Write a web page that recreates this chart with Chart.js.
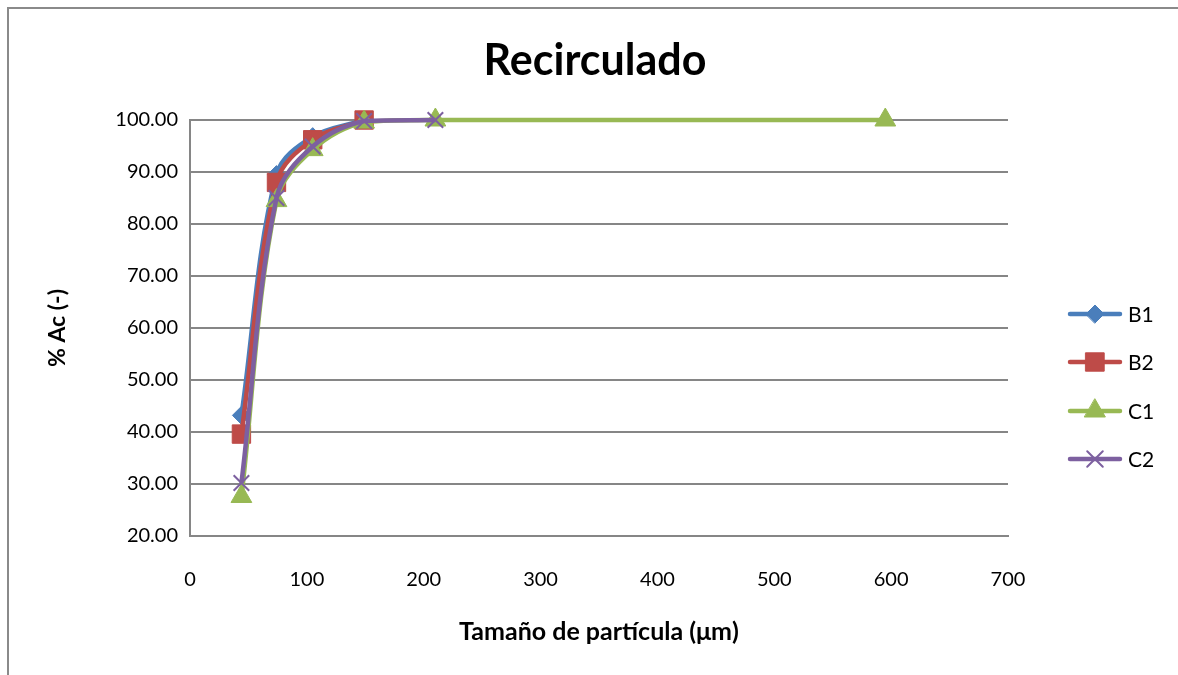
<!DOCTYPE html>
<html>
<head>
<meta charset="utf-8">
<script src="https://cdn.jsdelivr.net/npm/chart.js@4"></script>
<style>
  body { margin: 0; overflow: hidden; background: #fff; }
  #frame { position: absolute; left: 7px; top: 7px; width: 1300px; height: 800px; border: 2px solid #8a8a8a; }
  canvas { position: absolute; left: 0; top: 0; }
</style>
</head>
<body>
<div id="frame"></div>
<canvas id="graph" width="1178" height="675"></canvas>
<script>
var sizesB = [44, 74, 105, 149];
var sizesC1 = [44, 74, 105, 149, 210, 595];
var sizesC2 = [44, 74, 105, 149, 210];
var valuesB1 = [43.2, 89.5, 96.8, 100.0];
var valuesB2 = [39.6, 88.0, 96.2, 100.0];
var valuesC1 = [27.6, 84.5, 94.3, 99.6, 100.0, 100.0];
var valuesC2 = [30.2, 85.0, 94.9, 99.8, 100.0];
var seriesNames = ['B1', 'B2', 'C1', 'C2'];
var chartTitle = 'Recirculado';

var font = 'Lato, "Open Sans", sans-serif';

function points(xs, ys) {
    return xs.map(function (x, i) { return { x: x, y: ys[i] }; });
}

function dataset(name, xs, ys, color, style, radius, order) {
    return {
        label: name,
        data: points(xs, ys),
        borderColor: color,
        backgroundColor: color,
        borderWidth: 4.5,
        tension: 0.35,
        pointStyle: style,
        pointRadius: radius,
        pointHoverRadius: radius,
        pointBorderWidth: style === 'crossRot' ? 2 : 1,
        pointBorderColor: color,
        pointBackgroundColor: color,
        clip: false,
        order: order
    };
}

// title centred on the whole chart, legend with line + marker on the right
var decorPlugin = {
    id: 'decor',
    afterDraw: function (chart) {
        var ctx = chart.ctx;
        ctx.save();
        ctx.fillStyle = '#000';
        ctx.font = 'bold 43px ' + font;
        ctx.textAlign = 'center';
        ctx.textBaseline = 'middle';
        ctx.fillText(chartTitle, 595, 61);
        ctx.restore();

        var rows = [314, 362, 411, 459];
        chart.data.datasets.forEach(function (ds, i) {
            var y = rows[i];
            ctx.save();
            ctx.strokeStyle = ds.borderColor;
            ctx.fillStyle = ds.borderColor;
            ctx.lineWidth = 4.5;
            ctx.lineCap = 'round';
            ctx.beginPath();
            ctx.moveTo(1070, y);
            ctx.lineTo(1120, y);
            ctx.stroke();
            ctx.lineWidth = ds.pointBorderWidth;
            Chart.helpers.drawPoint(ctx, {
                pointStyle: ds.pointStyle,
                radius: ds.pointRadius,
                rotation: 0,
                borderWidth: ds.pointBorderWidth
            }, 1095, y);
            ctx.fillStyle = '#000';
            ctx.font = '21px ' + font;
            ctx.textBaseline = 'middle';
            ctx.fillText(ds.label, 1128, y + 1);
            ctx.restore();
        });
    }
};

var ctx = document.getElementById('graph').getContext('2d');

var data = {
    datasets: [
        dataset(seriesNames[0], sizesB, valuesB1, '#4a7ebb', 'rectRot', 9, 4),
        dataset(seriesNames[1], sizesB, valuesB2, '#be4b48', 'rect', 13, 3),
        dataset(seriesNames[2], sizesC1, valuesC1, '#98b954', 'triangle', 12, 2),
        dataset(seriesNames[3], sizesC2, valuesC2, '#7d60a0', 'crossRot', 11, 1)
    ]
};

var options = {
    responsive: false,
    animation: false,
    layout: {
        padding: { left: 20, right: 170, top: 120, bottom: 14 }
    },
    plugins: {
        legend: { display: false },
        tooltip: { enabled: false },
        title: { display: false }
    },
    scales: {
        x: {
            type: 'linear',
            min: 0,
            max: 700,
            afterFit: function (scale) { scale.height = 125; },
            ticks: {
                stepSize: 100,
                color: '#000',
                padding: 32,
                font: { family: font, size: 20 }
            },
            grid: { display: false, drawTicks: false },
            border: { display: true, color: '#868686', width: 2 },
            title: {
                display: true,
                text: 'Tamaño de partícula (μm)',
                color: '#000',
                font: { family: font, size: 25, weight: 'bold' },
                padding: { top: 0, bottom: 14 }
            }
        },
        y: {
            min: 20,
            max: 100,
            afterFit: function (scale) { scale.width = 170; },
            ticks: {
                stepSize: 10,
                color: '#000',
                padding: 12,
                font: { family: font, size: 20 },
                callback: function (v) { return v.toFixed(2); }
            },
            grid: { color: '#868686', lineWidth: 2, drawTicks: false },
            border: { display: true, color: '#868686', width: 2 },
            title: {
                display: true,
                text: '% Ac (-)',
                color: '#000',
                font: { family: font, size: 23, weight: 'bold' },
                padding: { top: 24, bottom: 0 }
            }
        }
    }
};

var chart = new Chart(ctx, {
    type: 'line',
    data: data,
    options: options,
    plugins: [decorPlugin]
});
</script>
</body>
</html>
